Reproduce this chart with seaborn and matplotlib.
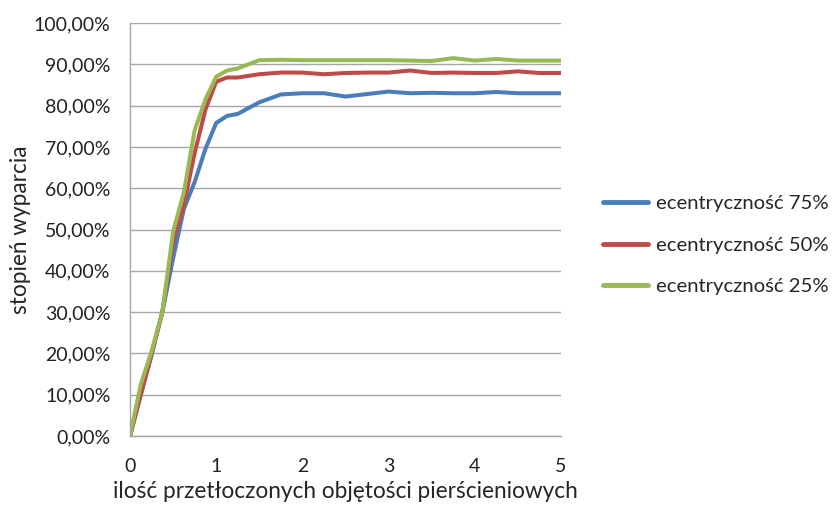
import numpy as np
import pandas as pd
import seaborn as sns
import matplotlib.pyplot as plt
from matplotlib.ticker import FuncFormatter

# x = number of flushed annular volumes
x_vals = [0, 0.125, 0.25, 0.375, 0.5, 0.625, 0.75, 0.875, 1.0, 1.125, 1.25, 1.5, 1.75,
          2.0, 2.25, 2.5, 2.75, 3.0, 3.25, 3.5, 3.75, 4.0, 4.25, 4.5, 4.75, 5.0]

ecc_75 = [0, 10, 19.5, 30, 43, 55, 61.5, 69.5, 75.8, 77.5, 78, 80.8, 82.7,
          83.0, 83.0, 82.2, 82.8, 83.4, 83.0, 83.1, 83.0, 83.0, 83.3, 83.0, 83.0, 83.0]
ecc_50 = [0, 10, 20, 30, 47, 56, 68.5, 79, 85.8, 86.8, 86.8, 87.6, 88.0,
          88.0, 87.6, 87.9, 88.0, 88.0, 88.5, 87.9, 88.0, 87.9, 87.9, 88.3, 87.9, 87.9]
ecc_25 = [0, 12.5, 20.5, 30, 49.5, 59, 74, 81.5, 87, 88.5, 89, 91.0, 91.1,
          91.0, 91.0, 91.0, 91.0, 91.0, 90.9, 90.8, 91.5, 90.9, 91.3, 90.9, 90.9, 90.9]

series_names = ['ecentryczność 75%', 'ecentryczność 50%', 'ecentryczność 25%']
colors = ['#4a7ebb', '#be4b48', '#98b954']

df = pd.concat([
    pd.DataFrame({'x': x_vals, 'y': vals, 'serie': name})
    for name, vals in zip(series_names, [ecc_75, ecc_50, ecc_25])
])

sns.set_style('white')
plt.rcParams['font.family'] = ['Lato', 'DejaVu Sans']

fig = plt.figure(figsize=(8.36, 5.07), dpi=100)
ax = fig.add_axes([0.1555, 0.14, 0.5155, 0.8146])

sns.lineplot(data=df, x='x', y='y', hue='serie', palette=colors, linewidth=2.9,
             ax=ax, sort=False, solid_joinstyle='round', solid_capstyle='round')

ax.set_xlim(0, 5)
ax.set_ylim(0, 100)
ax.set_yticks(np.arange(0, 101, 10))
ax.set_xticks(range(6))
ax.yaxis.set_major_formatter(FuncFormatter(lambda v, p: f'{v:.2f}%'.replace('.', ',')))
ax.grid(axis='y', color='#a6a6a6', linewidth=1)
ax.set_axisbelow(True)

for s in ['top', 'right']:
    ax.spines[s].set_visible(False)
for s in ['left', 'bottom']:
    ax.spines[s].set_color('#a6a6a6')
    ax.spines[s].set_linewidth(1)
ax.tick_params(axis='both', which='major', direction='out', length=5, width=1,
               color='#a6a6a6', labelsize=14, labelcolor='#222222', pad=9)
ax.tick_params(axis='x', pad=11)

ax.set_xlabel('ilość przetłoczonych objętości pierścieniowych', fontsize=16.3, labelpad=4)
ax.set_ylabel('stopień wyparcia', fontsize=16.3, labelpad=2)

leg = ax.legend(loc='center left', bbox_to_anchor=(1.097, 0.4625), frameon=False,
                fontsize=14.6, handlelength=2.25, labelspacing=1.18, handletextpad=0.4,
                borderaxespad=0, borderpad=0)
for line in leg.get_lines():
    line.set_linewidth(3.5)

fig.savefig('out.png', dpi=100)
